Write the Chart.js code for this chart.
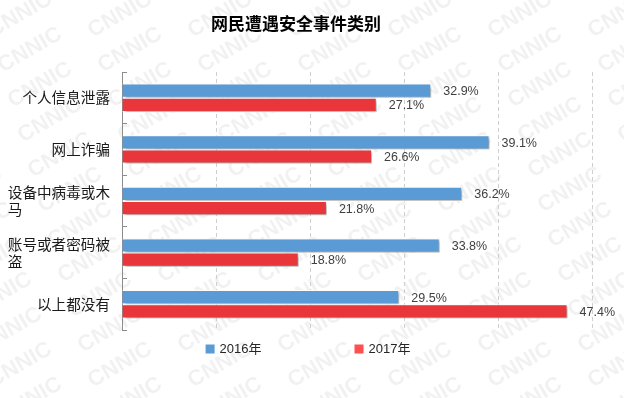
<!DOCTYPE html>
<html>
<head>
<meta charset="utf-8">
<script src="https://cdn.jsdelivr.net/npm/chart.js@4.4.1/dist/chart.umd.min.js"></script>
<style>
  html, body { margin: 0; padding: 0; background: #fff; }
  #wrap { width: 624px; height: 398px; }
</style>
</head>
<body>
<div id="wrap"><canvas id="chart" width="624" height="398"></canvas></div>
<script>
const categories = ['个人信息泄露', '网上诈骗', '设备中病毒或木马', '账号或者密码被盗', '以上都没有'];
const values2016 = [32.9, 39.1, 36.2, 33.8, 29.5];
const values2017 = [27.1, 26.6, 21.8, 18.8, 47.4];
const seriesNames = ['2016年', '2017年'];
const xTicks = [0, 10, 20, 30, 40, 50];

const CJK = '"Noto Sans CJK SC", "Microsoft YaHei", sans-serif';
const LAT = '"Liberation Sans", Arial, "Noto Sans CJK SC", sans-serif';

// 浅色水印
const watermark = {
    id: 'watermark',
    beforeDraw(chart) {
        const ctx = chart.ctx;
        ctx.save();
        ctx.fillStyle = '#fff';
        ctx.fillRect(0, 0, chart.width, chart.height);
        ctx.fillStyle = 'rgba(0,0,0,0.055)';
        ctx.font = 'bold 22px ' + LAT;
        ctx.textAlign = 'center';
        ctx.textBaseline = 'middle';
        for (let r = -2; r < 14; r++) {
            for (let c = -2; c < 8; c++) {
                const x = 20 + c * 100 + r * 10;
                const y = 15 + r * 35;
                ctx.save();
                ctx.translate(x, y);
                ctx.rotate(-Math.PI / 6);
                ctx.fillText('CNNIC', 0, 0);
                ctx.restore();
            }
        }
        ctx.restore();
    }
};

// 柱子阴影
const barShadow = {
    id: 'barShadow',
    beforeDatasetsDraw(chart) {
        const ctx = chart.ctx;
        ctx.save();
        ctx.shadowColor = 'rgba(0,0,0,0.35)';
        ctx.shadowBlur = 3;
        ctx.shadowOffsetX = 2;
        ctx.shadowOffsetY = 2;
    },
    afterDatasetsDraw(chart) {
        chart.ctx.restore();
    }
};

// 数据标签
const valueLabels = {
    id: 'valueLabels',
    afterDatasetsDraw(chart) {
        const ctx = chart.ctx;
        ctx.save();
        ctx.font = '12.5px ' + LAT;
        ctx.fillStyle = '#404040';
        ctx.textAlign = 'left';
        ctx.textBaseline = 'middle';
        chart.data.datasets.forEach((ds, i) => {
            chart.getDatasetMeta(i).data.forEach((bar, j) => {
                ctx.fillText(ds.data[j].toFixed(1) + '%', bar.x + 12, bar.y + 1);
            });
        });
        ctx.restore();
    }
};

// 底部图例
const bottomLegend = {
    id: 'bottomLegend',
    afterDraw(chart) {
        const ctx = chart.ctx;
        ctx.save();
        ctx.font = '13px ' + LAT;
        ctx.textBaseline = 'middle';
        const box = 9, gapText = 5, gapItem = 93, cy = 349;
        const widths = chart.data.datasets.map(d => box + gapText + ctx.measureText(d.label).width);
        let x = 308 - (widths[0] + gapItem + widths[1]) / 2;
        chart.data.datasets.forEach((d, i) => {
            ctx.fillStyle = d.legendColor;
            ctx.fillRect(x, cy - box / 2, box, box);
            ctx.fillStyle = '#262626';
            ctx.fillText(d.label, x + box + gapText, cy);
            x += widths[i] + gapItem;
        });
        ctx.restore();
    }
};

new Chart(document.getElementById('chart'), {
    type: 'bar',
    data: {
        labels: categories,
        datasets: [{
            label: seriesNames[0],
            data: values2016,
            backgroundColor: '#5B9BD5',
            legendColor: '#5B9BD5',
            borderColor: '#fff',
            borderWidth: 1,
            categoryPercentage: 0.55,
            barPercentage: 1
        }, {
            label: seriesNames[1],
            data: values2017,
            backgroundColor: '#E8363A',
            legendColor: '#FF4F4F',
            borderColor: '#fff',
            borderWidth: 1,
            categoryPercentage: 0.55,
            barPercentage: 1
        }]
    },
    options: {
        indexAxis: 'y',
        responsive: false,
        animation: false,
        layout: { padding: { left: 0, right: 32, top: 0, bottom: 68 } },
        plugins: {
            legend: { display: false },
            tooltip: { enabled: false },
            title: {
                display: true,
                text: '网民遭遇安全事件类别',
                color: '#000',
                font: { family: CJK, size: 17, weight: 'bold' },
                padding: { top: 13, bottom: 38.6 }
            }
        },
        scales: {
            x: {
                min: 0,
                max: 50,
                afterBuildTicks: s => { s.ticks = xTicks.map(v => ({ value: v })); },
                ticks: { display: false },
                grid: { color: '#CFCFCF', drawTicks: false, tickBorderDash: [4, 3] },
                border: { display: false, dash: [4, 3] }
            },
            y: {
                afterFit: s => { s.width = 122; },
                ticks: {
                    color: '#1a1a1a',
                    padding: 17,
                    font: { family: CJK, size: 14.6, lineHeight: 1.15 },
                    callback: function (value) {
                        const label = this.getLabelForValue(value);
                        if (label.length <= 7) return label;
                        const lines = [];
                        for (let k = 0; k < label.length; k += 7) lines.push(label.slice(k, k + 7));
                        const last = lines.length - 1;
                        lines[last] = lines[last] + '\u3000'.repeat(7 - lines[last].length);
                        return lines;
                    }
                },
                grid: { drawOnChartArea: false, drawTicks: true, tickLength: -5, color: '#8C8C8C' },
                border: { display: true, color: '#8C8C8C' }
            }
        }
    },
    plugins: [watermark, barShadow, valueLabels, bottomLegend]
});
</script>
</body>
</html>
